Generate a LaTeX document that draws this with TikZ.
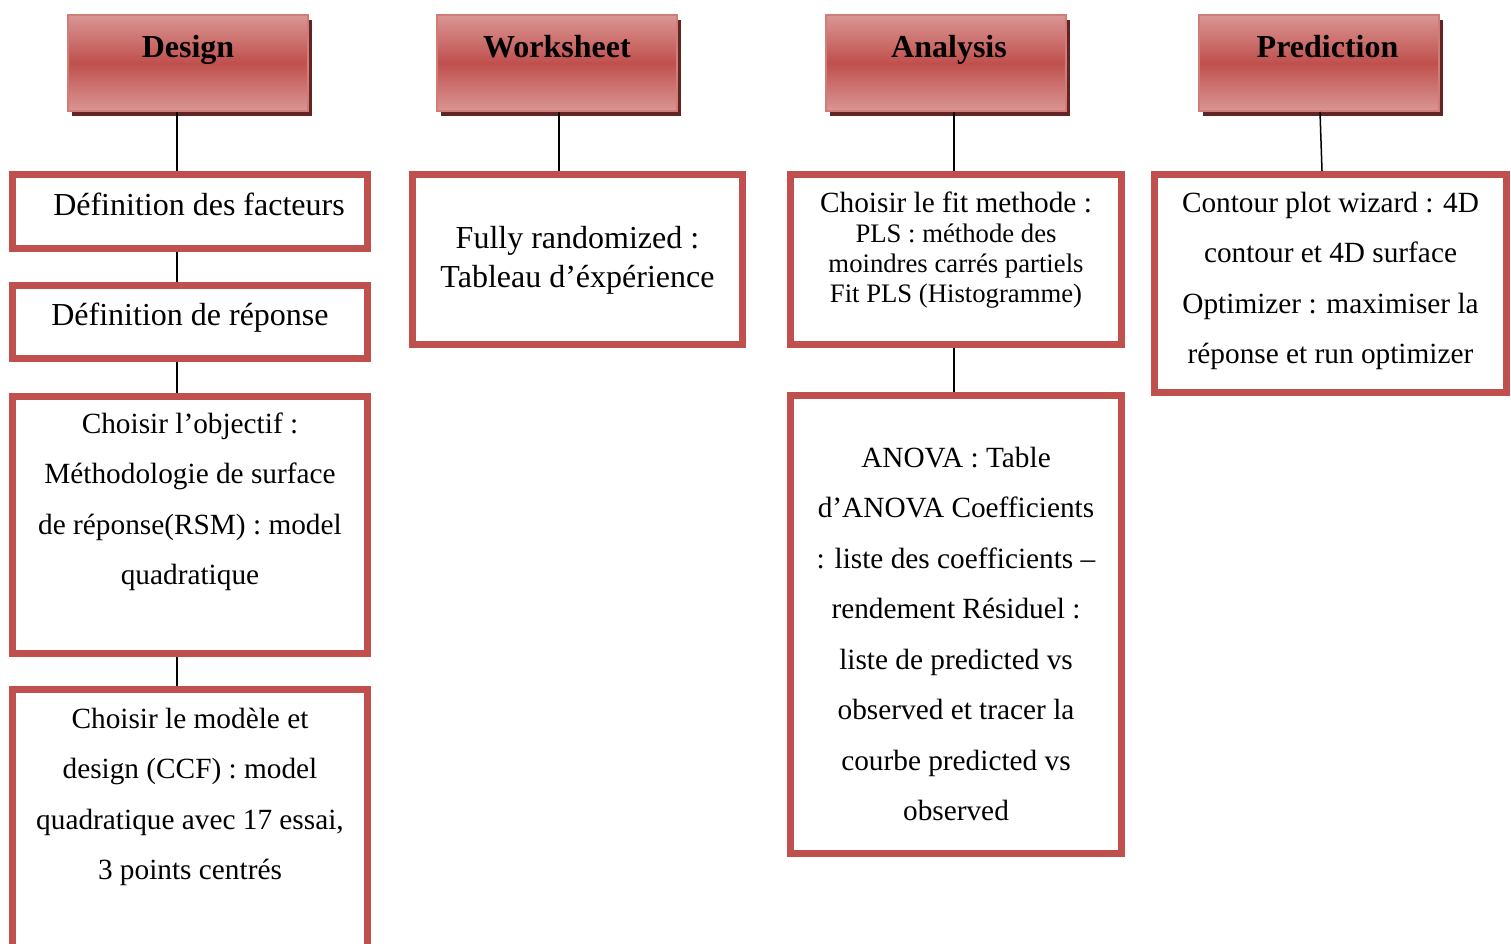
\documentclass[tikz,border=0pt]{standalone}
\usepackage{fontspec}
\setmainfont{Liberation Serif}
\usetikzlibrary{positioning,shadows}
\definecolor{boxred}{HTML}{C0504D}
\definecolor{hdlight}{HTML}{DA9694}
\definecolor{hdshadow}{HTML}{632523}
\newcommand{\cell}[4]{\parbox[c][#2pt][t]{#1pt}{\centering\vspace*{#3pt}\rule{0pt}{25pt}#4}}

\begin{document}
\begin{tikzpicture}[x=1pt, y=-1pt,
  stage/.style={draw=boxred, line width=7pt, fill=white, inner sep=0pt, anchor=north west},
  head/.style={draw=boxred!75!white, line width=2pt, inner sep=0pt, anchor=north west,
    top color=hdlight, bottom color=hdlight, middle color=boxred,
    drop shadow={shadow xshift=4pt, shadow yshift=-5pt, fill=hdshadow, opacity=1},
    font=\bfseries\fontsize{32}{39}\selectfont},
  big/.style={font=\fontsize{32}{39}\selectfont},
  mid/.style={font=\fontsize{29.3}{50.5}\selectfont},
  link/.style={line width=1.5pt}]
\useasboundingbox (0,0) rectangle (1511,943);
\clip (0,0) rectangle (1511,943);

\node[head] (h1) at (67,14) {\cell{240}{96}{17}{Design}};
\node[head] (h2) at (436,14) {\cell{240}{96}{17}{Worksheet}};
\node[head] (h3) at (825,14) {\cell{240}{96}{17}{\hspace*{6pt}Analysis}};
\node[head] (h4) at (1198,14) {\cell{240}{96}{17}{\hspace*{17pt}Prediction}};

\node[stage, big] (d1) at (9,171) {\cell{355}{74}{15.5}{\hspace*{18pt}Définition des facteurs}};
\node[stage, big] (d2) at (9,282) {\cell{355}{73}{14.5}{Définition de réponse}};
\node[stage, mid] (d3) at (9,393) {\cell{355}{257}{11.5}{Choisir l’objectif :\\
  Méthodologie de surface\\ de réponse(RSM) : model\\ quadratique}};
\node[stage, mid] (d4) at (9,686) {\cell{355}{320}{13.5}{Choisir le modèle et\\
  design (CCF) : model\\ quadratique avec 17 essai,\\ 3 points centrés}};

\node[stage, big] (w1) at (409,171) {\cell{330}{170}{48.5}{Fully randomized :\\ Tableau d’éxpérience}};

\node[stage] (a1) at (787,171) {\cell{331}{170}{12.5}{\fontsize{29.3}{30}\selectfont Choisir le fit methode :\\
  \fontsize{26.7}{30}\selectfont PLS : méthode des\\ moindres carrés partiels\\ Fit PLS (Histogramme)}};
\node[stage, mid] (a2) at (787,392) {\cell{331}{458}{46.5}{ANOVA : Table\\ d’ANOVA Coefficients\\
  : liste des coefficients –\\ rendement Résiduel :\\ liste de predicted vs\\
  observed et tracer la\\ courbe predicted vs\\ observed}};

\node[stage, mid] (p1) at (1151,171) {\cell{352}{218}{12.5}{Contour plot wizard : 4D\\
  contour et 4D surface\\ Optimizer : maximiser la\\ réponse et run optimizer}};

\coordinate (c1) at (177,0);
\coordinate (c2) at (559,0);
\coordinate (c3) at (954,0);
\coordinate (c4) at (1320,0);
\coordinate (c5) at (1322,0);
\draw[link] (h1.south -| c1) -- (d1.north -| c1);
\draw[link] (d1.south -| c1) -- (d2.north -| c1);
\draw[link] (d2.south -| c1) -- (d3.north -| c1);
\draw[link] (d3.south -| c1) -- (d4.north -| c1);
\draw[link] (h2.south -| c2) -- (w1.north -| c2);
\draw[link] (h3.south -| c3) -- (a1.north -| c3);
\draw[link] (a1.south -| c3) -- (a2.north -| c3);
\draw[link] (h4.south -| c4) -- (p1.north -| c5);
\end{tikzpicture}
\end{document}
